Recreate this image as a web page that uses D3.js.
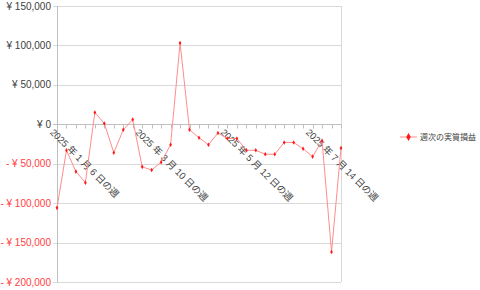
<!DOCTYPE html>
<html>
<head>
<meta charset="utf-8">
<script src="https://cdn.jsdelivr.net/npm/d3@7"></script>
<style>
  body { margin: 0; background: #fff; }
  text { font-family: "Liberation Sans", "Noto Sans CJK JP", sans-serif; }
</style>
</head>
<body>
<svg id="chart" width="480" height="290"></svg>
<script>
  // weekly data, first week = 2025-01-06
  const startWeek = new Date(2025, 0, 6);
  const weeklyPL = [
    -106000, -33000, -60000, -74000, 15000, 1000, -36000, -7000, 6000, -54000,
    -58000, -48000, -26000, 103000, -7000, -17000, -26000, -11000, -18000, -18000,
    -33000, -33000, -38000, -38000, -23000, -23000, -31000, -41000, -21000, -162000,
    -30000
  ];
  const yTicks = [150000, 100000, 50000, 0, -50000, -100000, -150000, -200000];
  const labelEvery = 9;
  const seriesName = '週次の実質損益';

  const weeks = weeklyPL.map((v, i) => {
    const d = new Date(startWeek);
    d.setDate(d.getDate() + i * 7);
    return d;
  });

  const svg = d3.select('#chart');
  const margin = { left: 57, right: 139, top: 6, bottom: 8 };
  const width = +svg.attr('width');
  const height = +svg.attr('height');

  const x = d3.scalePoint()
    .domain(d3.range(weeklyPL.length))
    .range([margin.left, width - margin.right]);

  const y = d3.scaleLinear()
    .domain([-200000, 150000])
    .range([height - margin.bottom, margin.top]);

  const fmt = d3.format(',');
  const yLabel = (v) => v < 0 ? '- ¥ ' + fmt(-v) : '¥ ' + fmt(v);

  // gridlines
  svg.append('g')
    .selectAll('line')
    .data(yTicks)
    .enter()
    .append('line')
    .attr('x1', margin.left - 4)
    .attr('x2', width - margin.right)
    .attr('y1', (v) => Math.round(y(v)) + 0.5)
    .attr('y2', (v) => Math.round(y(v)) + 0.5)
    .attr('stroke', (v) => v === 0 ? '#bfbfbf' : '#d9d9d9');

  // plot border left/right
  svg.append('line')
    .attr('x1', margin.left + 0.5).attr('x2', margin.left + 0.5)
    .attr('y1', y(150000)).attr('y2', y(-200000))
    .attr('stroke', '#bfbfbf');
  svg.append('line')
    .attr('x1', width - margin.right + 0.5).attr('x2', width - margin.right + 0.5)
    .attr('y1', y(150000)).attr('y2', y(-200000))
    .attr('stroke', '#d9d9d9');

  // y labels
  svg.append('g')
    .selectAll('text')
    .data(yTicks)
    .enter()
    .append('text')
    .attr('x', 51)
    .attr('y', (v) => y(v))
    .attr('dy', '0.35em')
    .attr('text-anchor', 'end')
    .attr('font-size', 10)
    .attr('fill', (v) => v < 0 ? '#ff4040' : '#404040')
    .text(yLabel);

  // category ticks on the zero line
  const zeroY = Math.round(y(0)) + 0.5;
  svg.append('g')
    .selectAll('line')
    .data(d3.range(weeklyPL.length))
    .enter()
    .append('line')
    .attr('x1', (i) => Math.round(x(i)) + 0.5)
    .attr('x2', (i) => Math.round(x(i)) + 0.5)
    .attr('y1', zeroY)
    .attr('y2', zeroY + 4)
    .attr('stroke', '#bfbfbf');

  // category labels
  const labelIdx = d3.range(0, weeklyPL.length, labelEvery);
  svg.append('g')
    .selectAll('text')
    .data(labelIdx)
    .enter()
    .append('text')
    .attr('transform', (i) => `translate(${x(i) - 2},${zeroY + 3}) rotate(45)`)
    .attr('dy', '0.8em')
    .attr('font-size', 9.5)
    .attr('fill', '#404040')
    .text((i) => {
      const d = weeks[i];
      return `${d.getFullYear()} 年 ${d.getMonth() + 1} 月 ${d.getDate()} 日の週`;
    });

  // series line
  const line = d3.line()
    .x((v, i) => x(i))
    .y((v) => y(v));

  svg.append('path')
    .datum(weeklyPL)
    .attr('d', line)
    .attr('fill', 'none')
    .attr('stroke', '#ff8c8c')
    .attr('stroke-width', 1);

  const diamond = d3.symbol().type(d3.symbolDiamond).size(6);
  svg.append('g')
    .selectAll('path')
    .data(weeklyPL)
    .enter()
    .append('path')
    .attr('d', diamond)
    .attr('transform', (v, i) => `translate(${x(i)},${y(v)})`)
    .attr('fill', '#ff1a1a');

  // legend
  const legend = svg.append('g').attr('transform', 'translate(400,137)');
  legend.append('line')
    .attr('x1', 0).attr('x2', 17)
    .attr('stroke', '#ff8c8c');
  legend.append('path')
    .attr('d', d3.symbol().type(d3.symbolDiamond).size(18))
    .attr('transform', 'translate(8.5,0)')
    .attr('fill', '#ff1a1a');
  legend.append('text')
    .attr('x', 20)
    .attr('dy', '0.35em')
    .attr('font-size', 8)
    .attr('fill', '#404040')
    .text(seriesName);
</script>
</body>
</html>
